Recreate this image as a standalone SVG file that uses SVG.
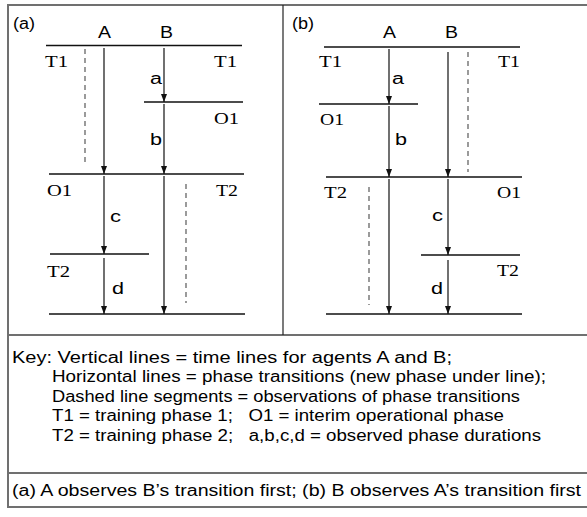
<svg xmlns="http://www.w3.org/2000/svg" width="587" height="517" viewBox="0 0 587 517">
<defs>
<style>
.frame{stroke:#707070;stroke-width:2;fill:none}
.h{stroke:#111;stroke-width:1.3;fill:none}
.v{stroke:#111;stroke-width:1.2;fill:none;marker-end:url(#ah)}
.d{stroke:#666;stroke-width:1.3;fill:none;stroke-dasharray:5,4}
.sans{font-family:"Liberation Sans",Arial,sans-serif;font-size:16px;fill:#000}
.serif{font-family:"Liberation Serif","Times New Roman",serif;font-size:16px;fill:#000}
.key{font-family:"Liberation Sans",Arial,sans-serif;font-size:16px;fill:#000}
</style>
<marker id="ah" viewBox="0 0 8 10" refX="8" refY="5" markerWidth="8" markerHeight="10" markerUnits="userSpaceOnUse" orient="auto">
<path d="M0,2 L8,5 L0,8 z" fill="#111"/>
</marker>
</defs>
<rect width="587" height="517" fill="#fff"/>
<g id="frame">
<path class="frame" d="M587,5 H8 V507 H587"/>
<line class="frame" x1="8" y1="335" x2="587" y2="335"/>
<line class="frame" x1="8" y1="473" x2="587" y2="473"/>
<line x1="283" y1="5" x2="283" y2="335" stroke="#222" stroke-width="1.2"/>
</g>
<g id="panel-a">
<text class="sans" x="13" y="29" textLength="22" lengthAdjust="spacingAndGlyphs">(a)</text>
<text class="sans" x="98" y="38" textLength="13" lengthAdjust="spacingAndGlyphs">A</text>
<text class="sans" x="160" y="38" textLength="13" lengthAdjust="spacingAndGlyphs">B</text>
<g id="a-transitions">
<line class="h" x1="46" y1="45.5" x2="242" y2="45.5"/>
<line class="h" x1="144" y1="102" x2="243" y2="102"/>
<line class="h" x1="49" y1="174" x2="244" y2="174"/>
<line class="h" x1="50" y1="254" x2="149" y2="254"/>
<line class="h" x1="49" y1="314" x2="245" y2="314"/>
</g>
<g id="a-labels">
<text class="serif" x="45" y="67" textLength="23" lengthAdjust="spacingAndGlyphs">T1</text>
<text class="serif" x="214" y="67" textLength="23" lengthAdjust="spacingAndGlyphs">T1</text>
<text class="serif" x="214" y="124" textLength="25" lengthAdjust="spacingAndGlyphs">O1</text>
<text class="serif" x="47" y="196" textLength="25" lengthAdjust="spacingAndGlyphs">O1</text>
<text class="serif" x="216" y="196" textLength="22" lengthAdjust="spacingAndGlyphs">T2</text>
<text class="serif" x="47" y="277" textLength="23" lengthAdjust="spacingAndGlyphs">T2</text>
<text class="sans" x="150" y="84" textLength="12" lengthAdjust="spacingAndGlyphs">a</text>
<text class="sans" x="150" y="145" textLength="12" lengthAdjust="spacingAndGlyphs">b</text>
<text class="sans" x="110" y="222" textLength="11" lengthAdjust="spacingAndGlyphs">c</text>
<text class="sans" x="112" y="294" textLength="12" lengthAdjust="spacingAndGlyphs">d</text>
</g>
</g>
<g id="panel-b">
<text class="sans" x="292" y="29" textLength="22" lengthAdjust="spacingAndGlyphs">(b)</text>
<text class="sans" x="383" y="38" textLength="13" lengthAdjust="spacingAndGlyphs">A</text>
<text class="sans" x="445" y="38" textLength="13" lengthAdjust="spacingAndGlyphs">B</text>
<g id="b-transitions">
<line class="h" x1="324" y1="47" x2="520" y2="47"/>
<line class="h" x1="319" y1="104" x2="418" y2="104"/>
<line class="h" x1="326" y1="177" x2="522" y2="177"/>
<line class="h" x1="421" y1="255" x2="520" y2="255"/>
<line class="h" x1="326" y1="314" x2="522" y2="314"/>
</g>
<g id="b-labels">
<text class="serif" x="319" y="67" textLength="23" lengthAdjust="spacingAndGlyphs">T1</text>
<text class="serif" x="498" y="67" textLength="22" lengthAdjust="spacingAndGlyphs">T1</text>
<text class="serif" x="320" y="125" textLength="24" lengthAdjust="spacingAndGlyphs">O1</text>
<text class="serif" x="324" y="198" textLength="23" lengthAdjust="spacingAndGlyphs">T2</text>
<text class="serif" x="497" y="198" textLength="24" lengthAdjust="spacingAndGlyphs">O1</text>
<text class="serif" x="497" y="276" textLength="22" lengthAdjust="spacingAndGlyphs">T2</text>
<text class="sans" x="392" y="84" textLength="12" lengthAdjust="spacingAndGlyphs">a</text>
<text class="sans" x="395" y="145" textLength="12" lengthAdjust="spacingAndGlyphs">b</text>
<text class="sans" x="432" y="221" textLength="11" lengthAdjust="spacingAndGlyphs">c</text>
<text class="sans" x="431" y="294" textLength="12" lengthAdjust="spacingAndGlyphs">d</text>
</g>
</g>
<g id="connectors">
<line class="d" x1="85" y1="49" x2="85" y2="166"/>
<line class="v" x1="104" y1="48" x2="104" y2="174"/>
<line class="v" x1="164" y1="48" x2="164" y2="102"/>
<line class="v" x1="164" y1="104" x2="164" y2="174"/>
<line class="v" x1="104" y1="176" x2="104" y2="254"/>
<line class="v" x1="104" y1="258" x2="104" y2="314"/>
<line class="v" x1="164" y1="176" x2="164" y2="314"/>
<line class="d" x1="186" y1="184" x2="186" y2="303"/>
<line class="v" x1="389" y1="49" x2="389" y2="104"/>
<line class="v" x1="389" y1="106" x2="389" y2="177"/>
<line class="v" x1="448" y1="52" x2="448" y2="177"/>
<line class="d" x1="468" y1="52" x2="468" y2="172"/>
<line class="v" x1="389" y1="179" x2="389" y2="314"/>
<line class="d" x1="369" y1="187" x2="369" y2="305"/>
<line class="v" x1="448" y1="179" x2="448" y2="255"/>
<line class="v" x1="448" y1="260" x2="448" y2="314"/>
</g>
<g id="key">
<text class="key" x="12" y="363" textLength="440" lengthAdjust="spacingAndGlyphs">Key: Vertical lines = time lines for agents A and B;</text>
<text class="key" x="52" y="382" textLength="494" lengthAdjust="spacingAndGlyphs">Horizontal lines = phase transitions (new phase under line);</text>
<text class="key" x="52" y="402" textLength="468" lengthAdjust="spacingAndGlyphs">Dashed line segments = observations of phase transitions</text>
<text class="key" x="52" y="421" textLength="452" lengthAdjust="spacingAndGlyphs" xml:space="preserve">T1 = training phase 1;   O1 = interim operational phase</text>
<text class="key" x="52" y="441" textLength="489" lengthAdjust="spacingAndGlyphs" xml:space="preserve">T2 = training phase 2;   a,b,c,d = observed phase durations</text>
</g>
<g id="caption">
<text class="key" x="12" y="496" textLength="569" lengthAdjust="spacingAndGlyphs">(a) A observes B’s transition first; (b) B observes A’s transition first</text>
</g>
</svg>
